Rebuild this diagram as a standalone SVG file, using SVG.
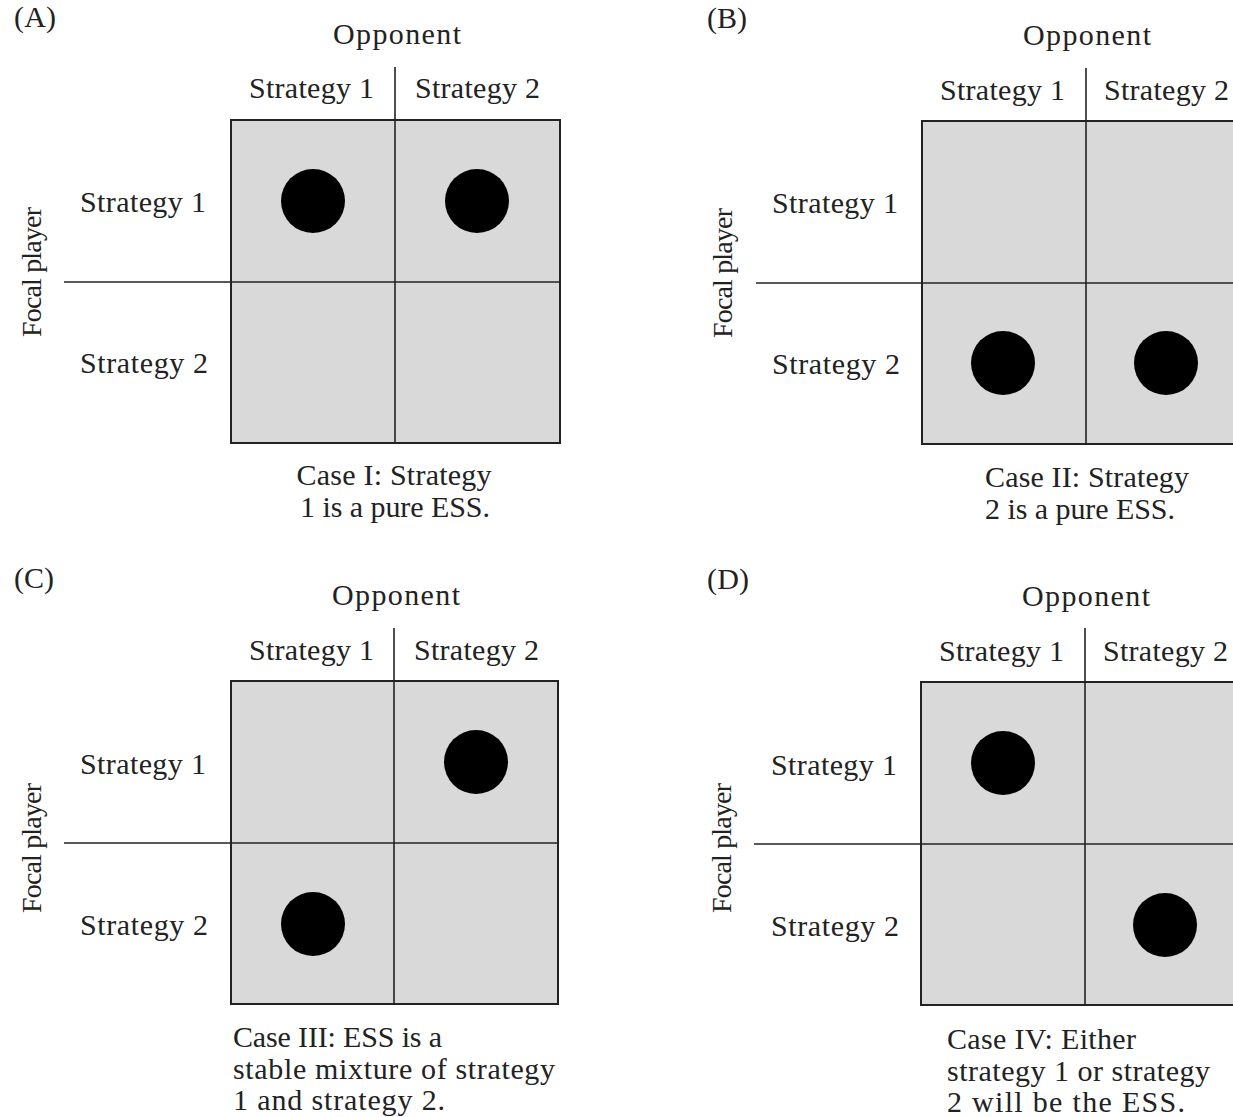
<svg xmlns="http://www.w3.org/2000/svg" width="1233" height="1117" viewBox="0 0 1233 1117">
<style>
text{font-family:"Liberation Serif","Times New Roman",serif;font-size:30px;fill:#222}
.fp{font-size:28px}
.grid{fill:#d9d9d9;stroke:#222;stroke-width:2}
.ln{stroke:#222;stroke-width:1.6;fill:none}
.dot{fill:#000}
.mid{text-anchor:middle}
</style>
<rect width="1233" height="1117" fill="#fff"/>
<g id="panelA">
<text x="14" y="27" textLength="42">(A)</text>
<text x="397" y="44" class="mid" textLength="128">Opponent</text>
<rect class="grid" x="231" y="120" width="329" height="323"/>
<g class="connectors"><line class="ln" x1="395" y1="67" x2="395" y2="443"/><line class="ln" x1="64" y1="282" x2="560" y2="282"/></g>
<text x="249" y="98" textLength="125">Strategy 1</text>
<text x="415" y="98" textLength="125">Strategy 2</text>
<text x="80" y="212" textLength="126">Strategy 1</text>
<text x="80" y="373" textLength="128">Strategy 2</text>
<text transform="translate(41,272) rotate(-90)" class="mid fp" textLength="130">Focal player</text>
<circle class="dot" cx="313" cy="201" r="32"/>
<circle class="dot" cx="477" cy="201" r="32"/>
<text x="394" y="485" class="mid" textLength="195">Case I: Strategy</text>
<text x="395" y="517" class="mid" textLength="190">1 is a pure ESS.</text>
</g>
<g id="panelB">
<text x="707" y="28" textLength="40">(B)</text>
<text x="1087" y="45" class="mid" textLength="128">Opponent</text>
<rect class="grid" x="922" y="121" width="330" height="323"/>
<g class="connectors"><line class="ln" x1="1086" y1="68" x2="1086" y2="444"/><line class="ln" x1="756" y1="283" x2="1240" y2="283"/></g>
<text x="940" y="100" textLength="125">Strategy 1</text>
<text x="1104" y="100" textLength="125">Strategy 2</text>
<text x="772" y="213" textLength="126">Strategy 1</text>
<text x="772" y="374" textLength="128">Strategy 2</text>
<text transform="translate(732,273) rotate(-90)" class="mid fp" textLength="130">Focal player</text>
<circle class="dot" cx="1003" cy="363" r="32"/>
<circle class="dot" cx="1166" cy="363" r="32"/>
<text x="985" y="487" textLength="204">Case II: Strategy</text>
<text x="985" y="519" textLength="190">2 is a pure ESS.</text>
</g>
<g id="panelC">
<text x="14" y="588" textLength="40">(C)</text>
<text x="396" y="605" class="mid" textLength="128">Opponent</text>
<rect class="grid" x="231" y="681" width="327" height="323"/>
<g class="connectors"><line class="ln" x1="394" y1="628" x2="394" y2="1004"/><line class="ln" x1="64" y1="843" x2="558" y2="843"/></g>
<text x="249" y="660" textLength="125">Strategy 1</text>
<text x="414" y="660" textLength="125">Strategy 2</text>
<text x="80" y="774" textLength="126">Strategy 1</text>
<text x="80" y="935" textLength="128">Strategy 2</text>
<text transform="translate(41,848) rotate(-90)" class="mid fp" textLength="130">Focal player</text>
<circle class="dot" cx="476" cy="762" r="32"/>
<circle class="dot" cx="313" cy="924" r="32"/>
<text x="233" y="1047" textLength="209">Case III: ESS is a</text>
<text x="233" y="1079" textLength="322">stable mixture of strategy</text>
<text x="233" y="1110" textLength="212">1 and strategy 2.</text>
</g>
<g id="panelD">
<text x="707" y="589" textLength="42">(D)</text>
<text x="1086" y="606" class="mid" textLength="128">Opponent</text>
<rect class="grid" x="921" y="682" width="330" height="323"/>
<g class="connectors"><line class="ln" x1="1085" y1="628" x2="1085" y2="1005"/><line class="ln" x1="754" y1="844" x2="1240" y2="844"/></g>
<text x="939" y="661" textLength="125">Strategy 1</text>
<text x="1103" y="661" textLength="125">Strategy 2</text>
<text x="771" y="775" textLength="126">Strategy 1</text>
<text x="771" y="936" textLength="128">Strategy 2</text>
<text transform="translate(731,848) rotate(-90)" class="mid fp" textLength="130">Focal player</text>
<circle class="dot" cx="1003" cy="763" r="32"/>
<circle class="dot" cx="1165" cy="925" r="32"/>
<text x="947" y="1049" textLength="189">Case IV: Either</text>
<text x="947" y="1081" textLength="263">strategy 1 or strategy</text>
<text x="947" y="1112" textLength="238">2 will be the ESS.</text>
</g>
</svg>
